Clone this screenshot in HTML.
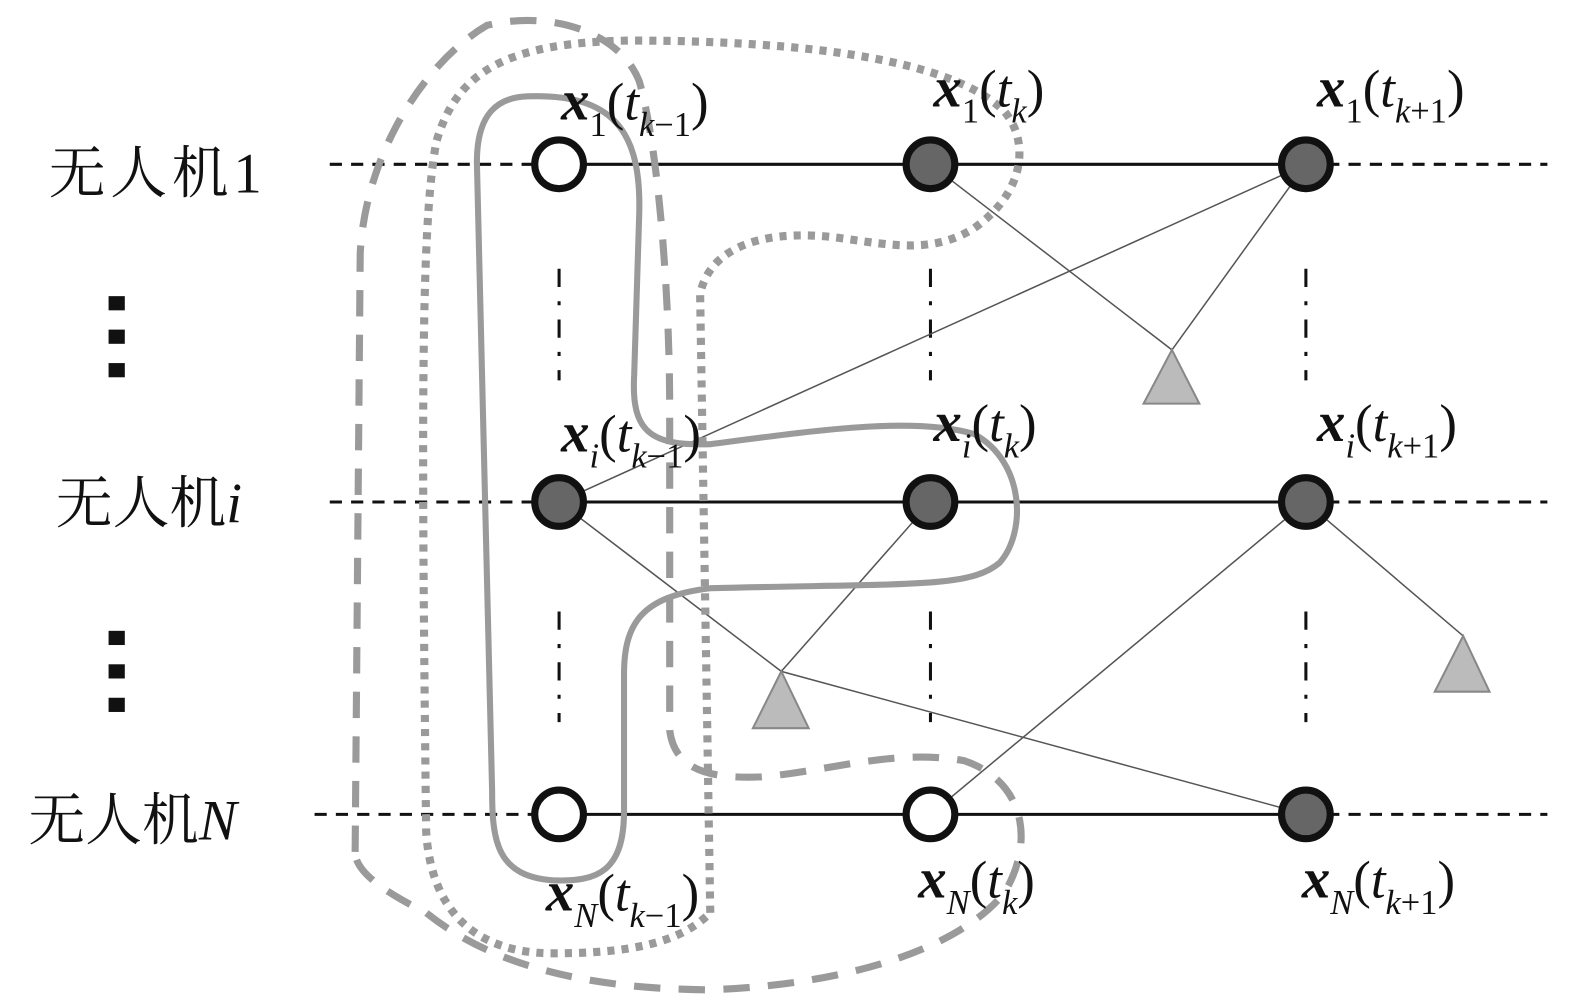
<!DOCTYPE html>
<html><head><meta charset="utf-8"><style>
html,body{margin:0;padding:0;background:#fff;width:1590px;height:1001px;overflow:hidden}
svg{display:block}
.lab{font-family:"Liberation Serif","Noto Serif CJK SC",serif;font-size:56px;fill:#111}
.x{font-family:"Liberation Serif",serif;font-size:56px;font-weight:bold;font-style:italic;fill:#111}
.p{font-family:"Liberation Serif",serif;font-size:52px;fill:#111}
.s{font-family:"Liberation Serif",serif;font-size:34px;fill:#111}
</style></head><body>
<svg width="1590" height="1001" viewBox="0 0 1567 987" preserveAspectRatio="none" xmlns="http://www.w3.org/2000/svg">
<g stroke="#111" stroke-width="3" fill="none">
<line x1="325" y1="162" x2="551" y2="162" stroke-dasharray="12,9"/>
<line x1="1287" y1="162" x2="1525" y2="162" stroke-dasharray="12,9"/>
<line x1="325" y1="495" x2="551" y2="495" stroke-dasharray="12,9"/>
<line x1="1287" y1="495" x2="1525" y2="495" stroke-dasharray="12,9"/>
<line x1="310" y1="803" x2="551" y2="803" stroke-dasharray="12,9"/>
<line x1="1287" y1="803" x2="1525" y2="803" stroke-dasharray="12,9"/>
<line x1="551" y1="162" x2="1287" y2="162"/>
<line x1="551" y1="495" x2="1287" y2="495"/>
<line x1="551" y1="803" x2="1287" y2="803"/>
</g>
<g stroke="#111" stroke-width="3" stroke-dasharray="18,14,4,14">
<line x1="551" y1="265" x2="551" y2="375"/><line x1="917" y1="265" x2="917" y2="375"/><line x1="1287" y1="265" x2="1287" y2="375"/>
<line x1="551" y1="603" x2="551" y2="712"/><line x1="917" y1="603" x2="917" y2="712"/><line x1="1287" y1="603" x2="1287" y2="712"/>
</g>
<g stroke="#555" stroke-width="1.5" fill="none">
<line x1="917" y1="162" x2="1155" y2="345"/>
<line x1="1287" y1="162" x2="1155" y2="345"/>
<line x1="1287" y1="162" x2="551" y2="495"/>
<polyline points="551,495 770,662 1287,803"/>
<line x1="917" y1="495" x2="770" y2="662"/>
<line x1="1287" y1="495" x2="917" y2="803"/>
<line x1="1287" y1="495" x2="1442" y2="627"/>
</g>
<g fill="#bbb" stroke="#888" stroke-width="2">
<polygon points="1155,345 1127,398 1182,398"/>
<polygon points="770,662 742,718 797,718"/>
<polygon points="1442,627 1414,682 1468,682"/>
</g>
<g fill="none" stroke="#9a9a9a">
<path stroke-width="6" d="M520,95 C605,92 632,130 630,210 L625,370 C622,425 640,440 700,438 C800,425 900,410 960,428 C1010,455 1012,525 985,555 C955,580 900,575 700,580 C632,588 615,615 615,665 L615,800 C615,858 590,870 545,868 C490,864 485,830 485,780 L470,160 C470,112 490,96 520,95 Z"/>
<path stroke-width="8" stroke-dasharray="7,7" d="M700,900 L690,290 C700,240 760,225 830,235 C880,242 920,250 960,225 C1010,190 1015,140 990,110 C940,60 800,40 620,40 C500,42 450,70 430,140 C415,220 415,400 420,820 C425,900 470,940 545,940 C620,940 670,930 700,900"/>
<path stroke-width="7" stroke-dasharray="26,18" d="M350,840 L355,250 C360,150 420,60 480,25 C540,10 610,30 630,80 C650,150 660,300 660,400 L660,720 C665,760 700,768 750,766 C820,760 880,738 950,750 C1010,770 1020,830 990,880 C950,930 850,970 700,976 C550,975 470,940 420,900 C380,880 350,860 350,840"/>
</g>
<g stroke="#111" stroke-width="7">
<circle cx="551" cy="162" r="24" fill="#fff"/>
<circle cx="917" cy="162" r="24" fill="#666"/>
<circle cx="1287" cy="162" r="24" fill="#666"/>
<circle cx="551" cy="495" r="24" fill="#666"/>
<circle cx="917" cy="495" r="24" fill="#666"/>
<circle cx="1287" cy="495" r="24" fill="#666"/>
<circle cx="551" cy="803" r="24" fill="#fff"/>
<circle cx="917" cy="803" r="24" fill="#fff"/>
<circle cx="1287" cy="803" r="24" fill="#666"/>
</g>
<text class="lab" x="48" y="190" textLength="210">无人机1</text>
<text class="lab" x="55" y="515">无人机<tspan font-style="italic">i</tspan></text>
<text class="lab" x="28" y="828">无人机<tspan font-style="italic">N</tspan></text>
<g fill="#111">
<rect x="107" y="292" width="16" height="14"/><rect x="107" y="325" width="16" height="14"/><rect x="107" y="358" width="16" height="14"/>
<rect x="107" y="622" width="16" height="14"/><rect x="107" y="655" width="16" height="14"/><rect x="107" y="688" width="16" height="14"/>
</g>
<g>
<text x="553" y="118"><tspan class="x">x</tspan><tspan class="s" dy="16">1</tspan><tspan class="p" dy="-16">(</tspan><tspan class="p" font-style="italic">t</tspan><tspan class="s" font-style="italic" dy="16">k</tspan><tspan class="s">−1</tspan><tspan class="p" dy="-16">)</tspan></text>
<text x="920" y="105"><tspan class="x">x</tspan><tspan class="s" dy="16">1</tspan><tspan class="p" dy="-16">(</tspan><tspan class="p" font-style="italic">t</tspan><tspan class="s" font-style="italic" dy="16">k</tspan><tspan class="p" dy="-16">)</tspan></text>
<text x="1298" y="105"><tspan class="x">x</tspan><tspan class="s" dy="16">1</tspan><tspan class="p" dy="-16">(</tspan><tspan class="p" font-style="italic">t</tspan><tspan class="s" font-style="italic" dy="16">k</tspan><tspan class="s">+1</tspan><tspan class="p" dy="-16">)</tspan></text>
<text x="553" y="445"><tspan class="x">x</tspan><tspan class="s" font-style="italic" dy="16">i</tspan><tspan class="p" dy="-16">(</tspan><tspan class="p" font-style="italic">t</tspan><tspan class="s" font-style="italic" dy="16">k</tspan><tspan class="s">−1</tspan><tspan class="p" dy="-16">)</tspan></text>
<text x="920" y="435"><tspan class="x">x</tspan><tspan class="s" font-style="italic" dy="16">i</tspan><tspan class="p" dy="-16">(</tspan><tspan class="p" font-style="italic">t</tspan><tspan class="s" font-style="italic" dy="16">k</tspan><tspan class="p" dy="-16">)</tspan></text>
<text x="1298" y="435"><tspan class="x">x</tspan><tspan class="s" font-style="italic" dy="16">i</tspan><tspan class="p" dy="-16">(</tspan><tspan class="p" font-style="italic">t</tspan><tspan class="s" font-style="italic" dy="16">k</tspan><tspan class="s">+1</tspan><tspan class="p" dy="-16">)</tspan></text>
<text x="538" y="898"><tspan class="x">x</tspan><tspan class="s" font-style="italic" dy="16">N</tspan><tspan class="p" dy="-16">(</tspan><tspan class="p" font-style="italic">t</tspan><tspan class="s" font-style="italic" dy="16">k</tspan><tspan class="s">−1</tspan><tspan class="p" dy="-16">)</tspan></text>
<text x="905" y="885"><tspan class="x">x</tspan><tspan class="s" font-style="italic" dy="16">N</tspan><tspan class="p" dy="-16">(</tspan><tspan class="p" font-style="italic">t</tspan><tspan class="s" font-style="italic" dy="16">k</tspan><tspan class="p" dy="-16">)</tspan></text>
<text x="1283" y="885"><tspan class="x">x</tspan><tspan class="s" font-style="italic" dy="16">N</tspan><tspan class="p" dy="-16">(</tspan><tspan class="p" font-style="italic">t</tspan><tspan class="s" font-style="italic" dy="16">k</tspan><tspan class="s">+1</tspan><tspan class="p" dy="-16">)</tspan></text>
</g>
</svg>
</body></html>
